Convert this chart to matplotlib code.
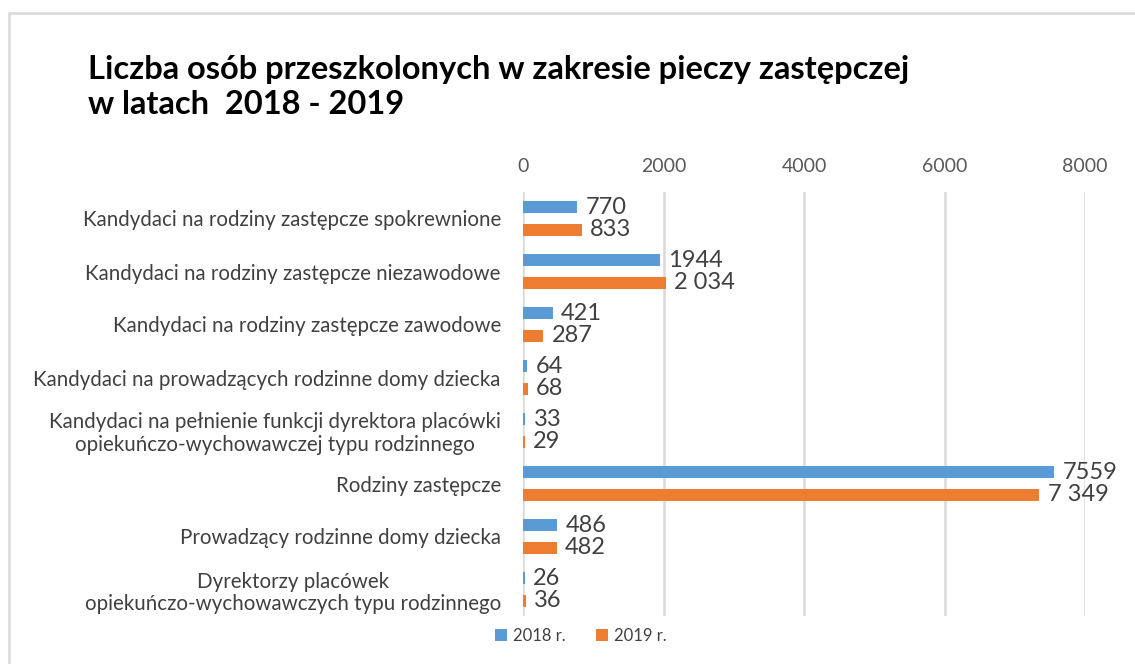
import numpy as np
import matplotlib.pyplot as plt
from matplotlib.patches import Rectangle

# categories from top to bottom
categories = [
    "Kandydaci na rodziny zastępcze spokrewnione",
    "Kandydaci na rodziny zastępcze niezawodowe",
    "Kandydaci na rodziny zastępcze zawodowe",
    "Kandydaci na prowadzących rodzinne domy dziecka",
    "Kandydaci na pełnienie funkcji dyrektora placówki\nopiekuńczo-wychowawczej typu rodzinnego",
    "Rodziny zastępcze",
    "Prowadzący rodzinne domy dziecka",
    "Dyrektorzy placówek\nopiekuńczo-wychowawczych typu rodzinnego",
]
values_2018 = [770, 1944, 421, 64, 33, 7559, 486, 26]
values_2019 = [833, 2034, 287, 68, 29, 7349, 482, 36]
series_names = ["2018 r.", "2019 r."]
xticks = [0, 2000, 4000, 6000, 8000]

BLUE = "#5B9BD5"
ORANGE = "#ED7D31"
FONT = "Lato"

def fmt_plain(v):
    return str(v)

def fmt_space(v):
    return f"{v:,}".replace(",", " ")

fig = plt.figure(figsize=(11.35, 6.64), dpi=100)
W, H = 1135, 664

# light frame around the chart area
fig.patches.append(Rectangle((9 / W, -0.1), 1.2, 1 - 13 / H + 0.1,
                             transform=fig.transFigure, fill=False,
                             edgecolor="#D9D9D9", linewidth=1.8))

ax = fig.add_axes([523 / W, 1 - 616 / H, (1085 - 523) / W, (616 - 192) / H])

y = np.arange(len(categories))
bar_h = 0.23
off = 0.21
b1 = ax.barh(y - off, values_2018, height=bar_h, color=BLUE, label=series_names[0])
b2 = ax.barh(y + off, values_2019, height=bar_h, color=ORANGE, label=series_names[1])

for bars, vals, f in [(b1, values_2018, fmt_plain), (b2, values_2019, fmt_space)]:
    for rect, v in zip(bars, vals):
        ax.annotate(f(v), (v, rect.get_y() + rect.get_height() / 2),
                    xytext=(6, 0), textcoords="offset points",
                    ha="left", va="center", fontsize=17, color="#404040",
                    family=FONT)

ax.set_xlim(0, 8000)
ax.set_ylim(len(categories) - 0.5, -0.5)
ax.set_xticks(xticks)
ax.set_xticklabels([str(t) for t in xticks], family=FONT, fontsize=14, color="#595959")
ax.xaxis.tick_top()
ax.tick_params(axis="x", length=0, pad=12)
ax.set_yticks(y)
ax.set_yticklabels(categories, family=FONT, fontsize=14.8, color="#404040",
                   multialignment="center", linespacing=1.15)
ax.tick_params(axis="y", length=0, pad=16)
ax.grid(axis="x", color="#D9D9D9", linewidth=1.8)
ax.set_axisbelow(True)
for s in ax.spines.values():
    s.set_visible(False)

fig.text(88 / W, 1 - 69 / H, "Liczba osób przeszkolonych w zakresie pieczy zastępczej",
         family=FONT, fontweight="bold", fontsize=23.5, va="center", ha="left")
fig.text(88 / W, 1 - 104 / H, "w latach  2018 - 2019",
         family=FONT, fontweight="bold", fontsize=23.5, va="center", ha="left")

fig.legend(handles=[b1, b2], labels=series_names, loc="center",
           bbox_to_anchor=(581 / W, 1 - 636 / H), ncol=2, frameon=False,
           prop={"family": FONT, "size": 12}, handlelength=0.7, handleheight=0.7,
           columnspacing=1.8, handletextpad=0.4, labelcolor="#404040")

fig.savefig("out.png", dpi=100)
